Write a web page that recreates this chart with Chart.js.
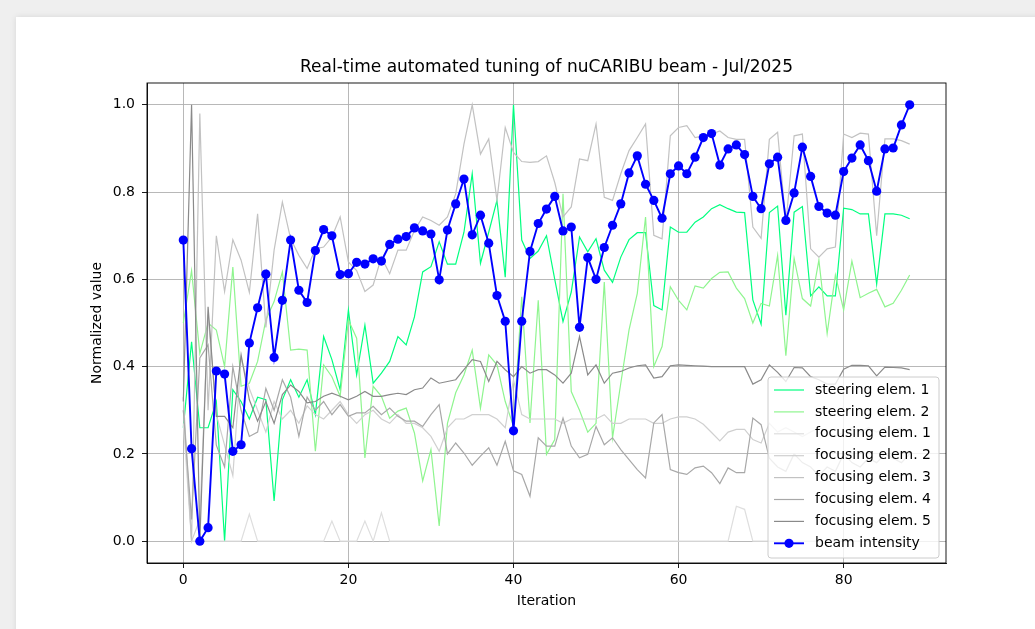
<!DOCTYPE html>
<html><head><meta charset="utf-8">
<script src="https://cdn.jsdelivr.net/npm/chart.js@4.4.0/dist/chart.umd.min.js"></script>
<style>
html,body{margin:0;padding:0;background:#efefef;width:1035px;height:629px;overflow:hidden;}
#card{position:absolute;left:16px;top:17px;width:1040px;height:640px;background:#fff;box-shadow:0 0 6px rgba(0,0,0,0.10);}
#wrap{position:absolute;left:0;top:0;width:1035px;height:629px;}
</style></head><body>
<div id="card"></div>
<div id="wrap"><canvas id="c" width="1035" height="629"></canvas></div>
<script>
const titleText = "Real-time automated tuning of nuCARIBU beam - Jul/2025";
const xLabel = "Iteration";
const yLabel = "Normalized value";
const xTicks = [0, 20, 40, 60, 80];
const yTicks = [0.0, 0.2, 0.4, 0.6, 0.8, 1.0];
const iterations = [0,1,2,3,4,5,6,7,8,9,10,11,12,13,14,15,16,17,18,19,20,21,22,23,24,25,26,27,28,29,30,31,32,33,34,35,36,37,38,39,40,41,42,43,44,45,46,47,48,49,50,51,52,53,54,55,56,57,58,59,60,61,62,63,64,65,66,67,68,69,70,71,72,73,74,75,76,77,78,79,80,81,82,83,84,85,86,87,88];

const steering1 = [0.26,0.457,0.26,0.26,0.32,0.0,0.347,0.32,0.28,0.33,0.324,0.092,0.324,0.37,0.33,0.37,0.29,0.469,0.416,0.347,0.53,0.381,0.495,0.362,0.385,0.412,0.469,0.45,0.514,0.617,0.629,0.686,0.635,0.635,0.708,0.842,0.637,0.708,0.781,0.605,1.0,0.69,0.648,0.665,0.70,0.60,0.503,0.571,0.697,0.663,0.693,0.621,0.593,0.651,0.691,0.707,0.707,0.54,0.53,0.72,0.708,0.708,0.731,0.743,0.762,0.771,0.762,0.754,0.753,0.553,0.497,0.753,0.768,0.518,0.754,0.767,0.562,0.583,0.562,0.562,0.763,0.76,0.75,0.75,0.589,0.75,0.75,0.747,0.739];
const steering2 = [0.50,0.62,0.43,0.50,0.484,0.40,0.628,0.355,0.362,0.412,0.507,0.549,0.617,0.438,0.44,0.438,0.206,0.404,0.377,0.332,0.507,0.465,0.191,0.355,0.332,0.282,0.298,0.305,0.248,0.138,0.21,0.035,0.27,0.34,0.381,0.438,0.305,0.427,0.404,0.32,0.263,0.56,0.271,0.552,0.199,0.233,0.796,0.343,0.30,0.25,0.27,0.594,0.237,0.362,0.484,0.568,0.743,0.40,0.446,0.583,0.552,0.53,0.585,0.58,0.602,0.616,0.617,0.58,0.556,0.5,0.545,0.539,0.655,0.425,0.648,0.556,0.539,0.644,0.476,0.61,0.53,0.642,0.558,0.568,0.577,0.537,0.545,0.575,0.61];
const focusing1 = [0.27,0.0,0.0,0.0,0.0,0.0,0.0,0.0,0.062,0.0,0.0,0.0,0.0,0.0,0.0,0.0,0.0,0.0,0.046,0.0,0.0,0.0,0.046,0.0,0.065,0.0,0.0,0.0,0.0,0.0,0.0,0.0,0.0,0.0,0.0,0.0,0.0,0.0,0.0,0.0,0.0,0.0,0.0,0.0,0.0,0.0,0.0,0.0,0.0,0.0,0.0,0.0,0.0,0.0,0.0,0.0,0.0,0.0,0.0,0.0,0.0,0.0,0.0,0.0,0.0,0.0,0.0,0.08,0.073,0.0,0.0,0.0,0.0,0.0,0.0,0.0,0.0,0.0,0.0,0.0,0.0,0.0,0.0,0.0,0.0,0.0,0.0,0.0,0.0];
const focusing2 = [0.30,0.0,0.05,0.52,0.29,0.22,0.15,0.42,0.35,0.30,0.25,0.32,0.28,0.30,0.27,0.31,0.29,0.28,0.30,0.32,0.29,0.27,0.29,0.30,0.28,0.27,0.29,0.27,0.27,0.26,0.24,0.206,0.26,0.28,0.28,0.29,0.29,0.29,0.28,0.26,0.37,0.29,0.28,0.28,0.28,0.28,0.27,0.28,0.28,0.28,0.28,0.29,0.27,0.27,0.28,0.28,0.28,0.27,0.27,0.28,0.285,0.285,0.28,0.268,0.249,0.23,0.25,0.256,0.256,0.233,0.225,0.27,0.25,0.26,0.25,0.24,0.25,0.26,0.25,0.24,0.25,0.26,0.25,0.26,0.25,0.26,0.25,0.26,0.25];
const focusing3 = [0.33,0.0,0.98,0.30,0.70,0.572,0.691,0.644,0.57,0.75,0.49,0.667,0.777,0.693,0.655,0.625,0.67,0.674,0.697,0.743,0.64,0.62,0.572,0.587,0.651,0.613,0.667,0.667,0.712,0.743,0.735,0.724,0.743,0.796,0.91,1.0,0.887,0.922,0.781,0.948,0.891,0.87,0.868,0.87,0.883,0.822,0.743,0.766,0.876,0.872,0.956,0.788,0.781,0.842,0.895,0.925,0.956,0.701,0.693,0.929,0.948,0.952,0.925,0.929,0.933,0.94,0.925,0.921,0.921,0.72,0.694,0.921,0.937,0.728,0.929,0.933,0.67,0.651,0.67,0.674,0.933,0.925,0.935,0.933,0.70,0.922,0.922,0.918,0.91];
const focusing4 = [0.30,0.05,0.42,0.45,0.22,0.17,0.40,0.30,0.24,0.25,0.35,0.30,0.37,0.33,0.24,0.33,0.30,0.32,0.29,0.313,0.286,0.294,0.294,0.309,0.29,0.305,0.286,0.275,0.275,0.263,0.29,0.313,0.20,0.225,0.202,0.174,0.195,0.214,0.174,0.229,0.161,0.153,0.103,0.237,0.218,0.218,0.282,0.218,0.191,0.199,0.263,0.221,0.237,0.21,0.187,0.164,0.145,0.271,0.29,0.164,0.157,0.153,0.168,0.172,0.157,0.132,0.168,0.157,0.157,0.282,0.267,0.19,0.17,0.16,0.20,0.18,0.17,0.15,0.17,0.16,0.20,0.18,0.17,0.19,0.18,0.20,0.19,0.18,0.20];
const focusing5 = [0.32,1.0,0.0,0.537,0.286,0.286,0.26,0.427,0.324,0.275,0.32,0.27,0.336,0.358,0.343,0.317,0.32,0.332,0.339,0.332,0.324,0.332,0.343,0.332,0.332,0.336,0.339,0.336,0.347,0.351,0.374,0.362,0.366,0.37,0.393,0.416,0.412,0.366,0.412,0.393,0.377,0.40,0.385,0.393,0.393,0.381,0.362,0.385,0.469,0.381,0.404,0.362,0.385,0.389,0.397,0.402,0.404,0.374,0.377,0.402,0.404,0.403,0.402,0.401,0.40,0.40,0.40,0.40,0.40,0.36,0.37,0.404,0.387,0.366,0.398,0.397,0.377,0.37,0.36,0.36,0.394,0.403,0.403,0.402,0.379,0.399,0.398,0.397,0.393];
const beamIntensity = [0.69,0.212,0.0,0.031,0.39,0.383,0.206,0.221,0.454,0.535,0.612,0.421,0.552,0.69,0.575,0.547,0.666,0.714,0.70,0.611,0.613,0.639,0.635,0.647,0.642,0.680,0.692,0.698,0.718,0.711,0.704,0.599,0.713,0.773,0.830,0.702,0.747,0.683,0.563,0.504,0.253,0.504,0.664,0.728,0.761,0.790,0.711,0.720,0.490,0.650,0.600,0.673,0.724,0.773,0.844,0.883,0.818,0.781,0.740,0.842,0.860,0.842,0.880,0.925,0.934,0.862,0.899,0.908,0.886,0.790,0.762,0.865,0.880,0.735,0.798,0.903,0.836,0.767,0.752,0.747,0.847,0.878,0.908,0.872,0.802,0.899,0.901,0.954,1.0];

const seriesNames = ["steering elem. 1","steering elem. 2","focusing elem. 1","focusing elem. 2","focusing elem. 3","focusing elem. 4","focusing elem. 5","beam intensity"];
const seriesValues = [steering1, steering2, focusing1, focusing2, focusing3, focusing4, focusing5, beamIntensity];
const seriesColors = ["#00ff7f","#8ff58f","#dedede","#d0d0d0","#c2c2c2","#a8a8a8","#8a8a8a","#0000ff"];

const FONT = "'DejaVu Sans', sans-serif";
Chart.defaults.font.family = FONT;

const datasets = seriesValues.map((vals, k) => {
  const isBeam = k === seriesValues.length - 1;
  return {
    label: seriesNames[k],
    data: iterations.map((it, i) => ({x: it, y: vals[i]})),
    borderColor: seriesColors[k],
    backgroundColor: seriesColors[k],
    borderWidth: isBeam ? 1.9 : 1.2,
    pointRadius: isBeam ? 4.6 : 0,
    pointHoverRadius: isBeam ? 4.6 : 0,
    pointBorderWidth: 0,
    pointBackgroundColor: seriesColors[k],
    tension: 0,
    fill: false,
    order: isBeam ? 0 : (seriesValues.length - 1 - k)
  };
});

const decor = {
  id: 'decor',
  afterDatasetsDraw(chart) {
    const ctx = chart.ctx, a = chart.chartArea;
    ctx.save();
    ctx.strokeStyle = '#000';
    ctx.lineWidth = 0.9;
    ctx.strokeRect(a.left, a.top, a.right - a.left, a.bottom - a.top);
    const bx = 768, by = 377, bw = 171, bh = 181, r = 3;
    ctx.beginPath();
    ctx.moveTo(bx + r, by);
    ctx.lineTo(bx + bw - r, by); ctx.quadraticCurveTo(bx + bw, by, bx + bw, by + r);
    ctx.lineTo(bx + bw, by + bh - r); ctx.quadraticCurveTo(bx + bw, by + bh, bx + bw - r, by + bh);
    ctx.lineTo(bx + r, by + bh); ctx.quadraticCurveTo(bx, by + bh, bx, by + bh - r);
    ctx.lineTo(bx, by + r); ctx.quadraticCurveTo(bx, by, bx + r, by);
    ctx.closePath();
    ctx.fillStyle = 'rgba(255,255,255,0.8)';
    ctx.fill();
    ctx.strokeStyle = '#cccccc';
    ctx.lineWidth = 1;
    ctx.stroke();
    ctx.font = '14px ' + FONT;
    ctx.textBaseline = 'middle';
    ctx.textAlign = 'left';
    seriesNames.forEach((name, k) => {
      const y = 390 + k * 21.9;
      const isBeam = k === seriesNames.length - 1;
      ctx.strokeStyle = seriesColors[k];
      ctx.lineWidth = isBeam ? 1.9 : 1.2;
      ctx.beginPath(); ctx.moveTo(774, y); ctx.lineTo(804, y); ctx.stroke();
      if (isBeam) {
        ctx.fillStyle = seriesColors[k];
        ctx.beginPath(); ctx.arc(789, y, 4.6, 0, Math.PI * 2); ctx.fill();
      }
      ctx.fillStyle = '#000';
      ctx.fillText(name, 815, y);
    });
    ctx.fillStyle = '#000';
    ctx.textAlign = 'center';
    ctx.font = '17px ' + FONT;
    ctx.fillText(titleText, (a.left + a.right) / 2, 68);
    ctx.font = '14px ' + FONT;
    ctx.fillText(xLabel, (a.left + a.right) / 2, 601);
    ctx.translate(97, (a.top + a.bottom) / 2);
    ctx.rotate(-Math.PI / 2);
    ctx.fillText(yLabel, 0, 0);
    ctx.restore();
  }
};

new Chart(document.getElementById('c'), {
  type: 'line',
  data: { datasets },
  options: {
    responsive: false,
    animation: false,
    events: [],
    layout: { padding: { left: 0, top: 83, right: 89, bottom: 0 } },
    plugins: { legend: { display: false }, title: { display: false }, tooltip: { enabled: false } },
    scales: {
      x: {
        type: 'linear', min: -4.4, max: 92.4,
        afterFit(s) { s.height = 66; },
        afterBuildTicks(s) { s.ticks = xTicks.map(v => ({ value: v })); },
        grid: { color: '#b0b0b0', lineWidth: 0.9, drawTicks: true, tickLength: 5, tickColor: '#000', tickWidth: 0.9 },
        border: { display: true, color: '#000', width: 0.9 },
        ticks: { color: '#000', font: { size: 14 }, padding: 4, maxRotation: 0, autoSkip: false, callback: v => String(v) }
      },
      y: {
        type: 'linear', min: -0.05, max: 1.05,
        afterFit(s) { s.width = 147; },
        afterBuildTicks(s) { s.ticks = yTicks.map(v => ({ value: v })); },
        grid: { color: '#b0b0b0', lineWidth: 0.9, drawTicks: true, tickLength: 5, tickColor: '#000', tickWidth: 0.9 },
        border: { display: true, color: '#000', width: 0.9 },
        ticks: { color: '#000', font: { size: 14 }, padding: 7, autoSkip: false, callback: v => Number(v).toFixed(1) }
      }
    }
  },
  plugins: [decor]
});
</script>
</body></html>
